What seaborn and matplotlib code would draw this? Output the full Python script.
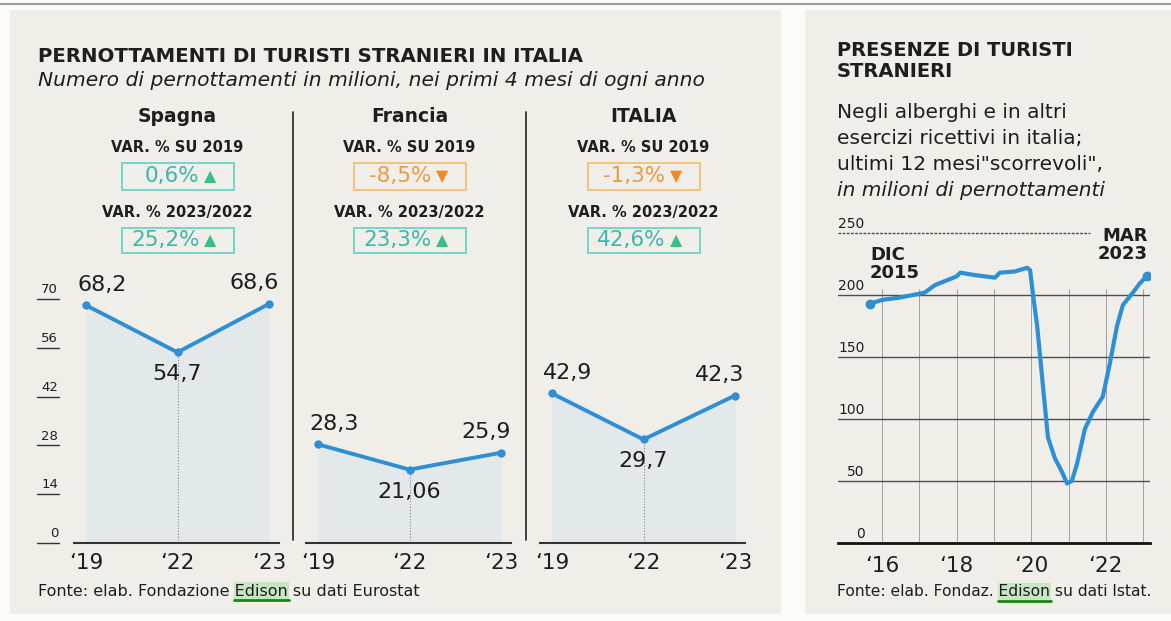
import numpy as np
import pandas as pd
import matplotlib.pyplot as plt
import matplotlib.transforms as mtransforms
from matplotlib.patches import Rectangle
import seaborn as sns

sns.set_theme(style="white")
plt.rcParams['font.family'] = ['DejaVu Sans']

# --- data -------------------------------------------------------------
years = ["\u201819", "\u201822", "\u201823"]
countries = ["Spagna", "Francia", "ITALIA"]
spagna = [68.2, 54.7, 68.6]
francia = [28.3, 21.06, 25.9]
italia = [42.9, 29.7, 42.3]
var_su_2019 = [0.6, -8.5, -1.3]
var_23_22 = [25.2, 23.3, 42.6]
left_yticks = [0, 14, 28, 42, 56, 70]

# presenze, ultimi 12 mesi scorrevoli (milioni), asse x in anni decimali
trend_x = [2015.68, 2016.0, 2016.48, 2017.0, 2017.15, 2017.42, 2018.0, 2018.1,
           2018.5, 2019.03, 2019.16, 2019.57, 2019.89, 2019.97, 2020.05, 2020.16,
           2020.32, 2020.45, 2020.64, 2020.83, 2020.96, 2021.09, 2021.23, 2021.44,
           2021.66, 2021.92, 2022.11, 2022.3, 2022.46, 2022.73, 2022.9, 2023.1]
trend_y = [193, 196, 198, 201, 202, 208, 215, 218,
           216, 214, 218, 219, 222, 220, 200, 175,
           125, 85, 68, 57, 48, 50, 64, 92,
           106, 118, 145, 175, 192, 202, 209, 215]
trend_xticks = [2016, 2018, 2020, 2022]
trend_xlabels = ["\u201816", "\u201818", "\u201820", "\u201822"]
trend_yticks = [0, 50, 100, 150, 200, 250]

# --- style ------------------------------------------------------------
BG = '#efeee9'
FILL = '#e3e8ea'
BLUE = '#2e8fd4'
DARK = '#1e1e1e'
POS = dict(txt='#3db5ad', edge='#74d6cc', tri='#35c08c', sym='\u25B2')
NEG = dict(txt='#eb9a45', edge='#f3c27c', tri='#ef8a25', sym='\u25BC')

W, H = 1171, 621
fig = plt.figure(figsize=(W / 100, H / 100), dpi=100)
fig.patch.set_facecolor('#fbfbf8')


def fx(x):
    return x / W


def fy(y):
    return 1 - y / H


def add_ax(l, t, r, b):
    ax = fig.add_axes([fx(l), fy(b), (r - l) / W, (b - t) / H])
    ax.set_facecolor('none')
    return ax


def ftext(x, y, s, **kw):
    return fig.text(fx(x), fy(y), s, **kw)


def rect(l, t, r, b, **kw):
    fig.add_artist(Rectangle((fx(l), fy(b)), (r - l) / W, (b - t) / H,
                             transform=fig.transFigure, **kw))


# panel backgrounds and top rule
rect(10, 10, 781, 614, fc=BG, ec='none', zorder=-20)
rect(805, 10, 1171, 614, fc=BG, ec='none', zorder=-20)
fig.add_artist(plt.Line2D([0, 1], [fy(4), fy(4)], color='#8a8a8a', lw=1.2))

# --- left block ---------------------------------------------------------
ftext(38, 56, "PERNOTTAMENTI DI TURISTI STRANIERI IN ITALIA", fontsize=14.2,
      fontweight='bold', color=DARK, va='center', ha='left')
ftext(38, 81, "Numero di pernottamenti in milioni, nei primi 4 mesi di ogni anno",
      fontsize=14.6, style='italic', color=DARK, va='center', ha='left')

for xs in (293, 526):
    fig.add_artist(plt.Line2D([fx(xs), fx(xs)], [fy(112), fy(540)], color='#222', lw=1.2))

x19 = [86, 318, 552]
series = [spagna, francia, italia]
xpos = [0, 1, 2]

for i, vals in enumerate(series):
    cx = x19[i] + 91.5
    ftext(cx, 117, countries[i], fontsize=13.5, fontweight='bold', ha='center', va='center', color=DARK)
    ftext(cx, 148, "VAR. % SU 2019", fontsize=10.5, fontweight='bold', ha='center', va='center', color=DARK)
    ftext(cx, 213, "VAR. % 2023/2022", fontsize=10.5, fontweight='bold', ha='center', va='center', color=DARK)
    for v, (top, bot) in ((var_su_2019[i], (163, 190)), (var_23_22[i], (228, 253))):
        st = POS if v >= 0 else NEG
        rect(cx - 56, top, cx + 56, bot, fc='none', ec=st['edge'], lw=1.4)
        yc = (top + bot) / 2
        ftext(cx + 22, yc, f"{v:.1f}%".replace('.', ','), fontsize=15.5, color=st['txt'],
              ha='right', va='center')
        ftext(cx + 33, yc, st['sym'], fontsize=11.5, color=st['tri'],
              ha='center', va='center')

    ax = add_ax(x19[i] - 12, 543 - 75 * 3.486, x19[i] - 12 + 205, 543)
    ax.fill_between(xpos, vals, 0, color=FILL, lw=0, zorder=0)
    ax.vlines(1, 0, vals[1], color='#8a8a8a', lw=0.8, ls=':', zorder=1)
    sns.lineplot(x=xpos, y=vals, ax=ax, color=BLUE, lw=2.8, marker='o',
                 markersize=6, markeredgewidth=0, zorder=3)
    ax.set_xlim(-12 * 2 / 183, 2 + 10 * 2 / 183)
    ax.set_ylim(0, 75)
    for s in ('top', 'right', 'left'):
        ax.spines[s].set_visible(False)
    ax.spines['bottom'].set_color('#333')
    ax.spines['bottom'].set_linewidth(1.5)
    ax.set_xticks(xpos)
    ax.set_xticklabels(years, fontsize=15.5, color=DARK)
    ax.tick_params(axis='x', direction='in', length=5, width=1.2, color='#333', pad=7)
    ax.set_yticks([])
    ax.set_xlabel('')
    ax.set_ylabel('')

    offs = [(16, 20, 'center'), (0, -22, 'center'), (-15, 21, 'center')]
    for xi, v, (dx, dy, ha) in zip(xpos, vals, offs):
        ax.annotate(f"{v:g}".replace('.', ','), (xi, v), xytext=(dx, dy),
                    textcoords='offset pixels', ha=ha, va='center',
                    fontsize=16, color=DARK)

    if i == 0:
        tr = mtransforms.blended_transform_factory(ax.transAxes, ax.transData)
        for v in left_yticks:
            ax.plot([-0.18, -0.073], [v, v], transform=tr, color='#333', lw=1, clip_on=False)
            ax.text(-0.078, v + 0.8, str(v), transform=tr, ha='right', va='bottom',
                    fontsize=9.5, color=DARK)

# --- right block --------------------------------------------------------
ftext(837, 61, "PRESENZE DI TURISTI\nSTRANIERI", fontsize=14, fontweight='bold',
      ha='left', va='center', color=DARK, linespacing=1.12)
for k, (line, sty) in enumerate([("Negli alberghi e in altri", 'normal'),
                                 ("esercizi ricettivi in italia;", 'normal'),
                                 ("ultimi 12 mesi\"scorrevoli\",", 'normal'),
                                 ("in milioni di pernottamenti", 'italic')]):
    ftext(837, 113 + k * 25.7, line, fontsize=14.5, style=sty, ha='left', va='center', color=DARK)

ax2 = add_ax(838, 543 - 260 * 1.24, 1150, 543)
ax2.set_xlim(2014.82, 2023.185)
ax2.set_ylim(0, 260)
for v in trend_yticks[1:-1]:
    ax2.axhline(v, color='#4d4d4d', lw=1, zorder=1)
ax2.hlines(250, 2014.82, 2021.58, color='#4d4d4d', lw=1, ls=(0, (2, 1)), zorder=1)
ax2.vlines(range(2016, 2024), 0, 205, color='#a0a0a0', lw=0.7, zorder=0)
sns.lineplot(x=trend_x, y=trend_y, ax=ax2, color=BLUE, lw=3, zorder=3)
ax2.scatter([trend_x[0], trend_x[-1]], [trend_y[0], trend_y[-1]], s=50, color=BLUE, zorder=4, lw=0)
for s in ('top', 'right', 'left'):
    ax2.spines[s].set_visible(False)
ax2.spines['bottom'].set_color('#111')
ax2.spines['bottom'].set_linewidth(2)
ax2.set_xticks(trend_xticks)
ax2.set_xticklabels(trend_xlabels, fontsize=15.5, color=DARK)
ax2.set_xticks([trend_x[0], trend_x[-1]], minor=True)
ax2.tick_params(axis='x', which='major', length=0, pad=9)
ax2.tick_params(axis='x', which='minor', direction='in', length=6, width=1.5, color='#111')
ax2.set_yticks([])
ax2.set_xlabel('')
ax2.set_ylabel('')
tr2 = mtransforms.blended_transform_factory(ax2.transAxes, ax2.transData)
for v in trend_yticks:
    ax2.text(0.085, v + 2, str(v), transform=tr2, ha='right', va='bottom',
             fontsize=10, color=DARK)
ax2.annotate("DIC\n2015", (trend_x[0], trend_y[0]), xytext=(0, 22), textcoords='offset pixels',
             ha='left', va='bottom', fontsize=13, fontweight='bold', color=DARK, linespacing=1.0)
ax2.annotate("MAR\n2023", (trend_x[-1], trend_y[-1]), xytext=(1, 13), textcoords='offset pixels',
             ha='right', va='bottom', fontsize=13, fontweight='bold', color=DARK, linespacing=1.0)

# --- sources with highlighted "Edison" ------------------------------------
renderer = fig.canvas.get_renderer()


def text_w(s, size):
    t = fig.text(0, 0, s, fontsize=size)
    w = t.get_window_extent(renderer).width
    t.remove()
    return w


for x0, yc, size, pre, post in ((38, 591, 11.5, "Fonte: elab. Fondazione ", " su dati Eurostat"),
                                (837, 592, 11.2, "Fonte: elab. Fondaz. ", " su dati Istat.")):
    w_pre = text_w(pre + "E", size) - text_w("E", size)
    w_ed = text_w("Edison", size)
    rect(x0 + w_pre - 1, yc - 9, x0 + w_pre + w_ed + 1, yc + 9, fc='#c9e6c4', ec='none', zorder=-5)
    fig.add_artist(plt.Line2D([fx(x0 + w_pre - 1), fx(x0 + w_pre + w_ed + 1)], [fy(yc + 9), fy(yc + 9)],
                              color='#118a11', lw=2))
    ftext(x0, yc, pre + "Edison" + post, fontsize=size, ha='left', va='center', color=DARK)

fig.savefig('out.png', dpi=100, facecolor=fig.get_facecolor())
